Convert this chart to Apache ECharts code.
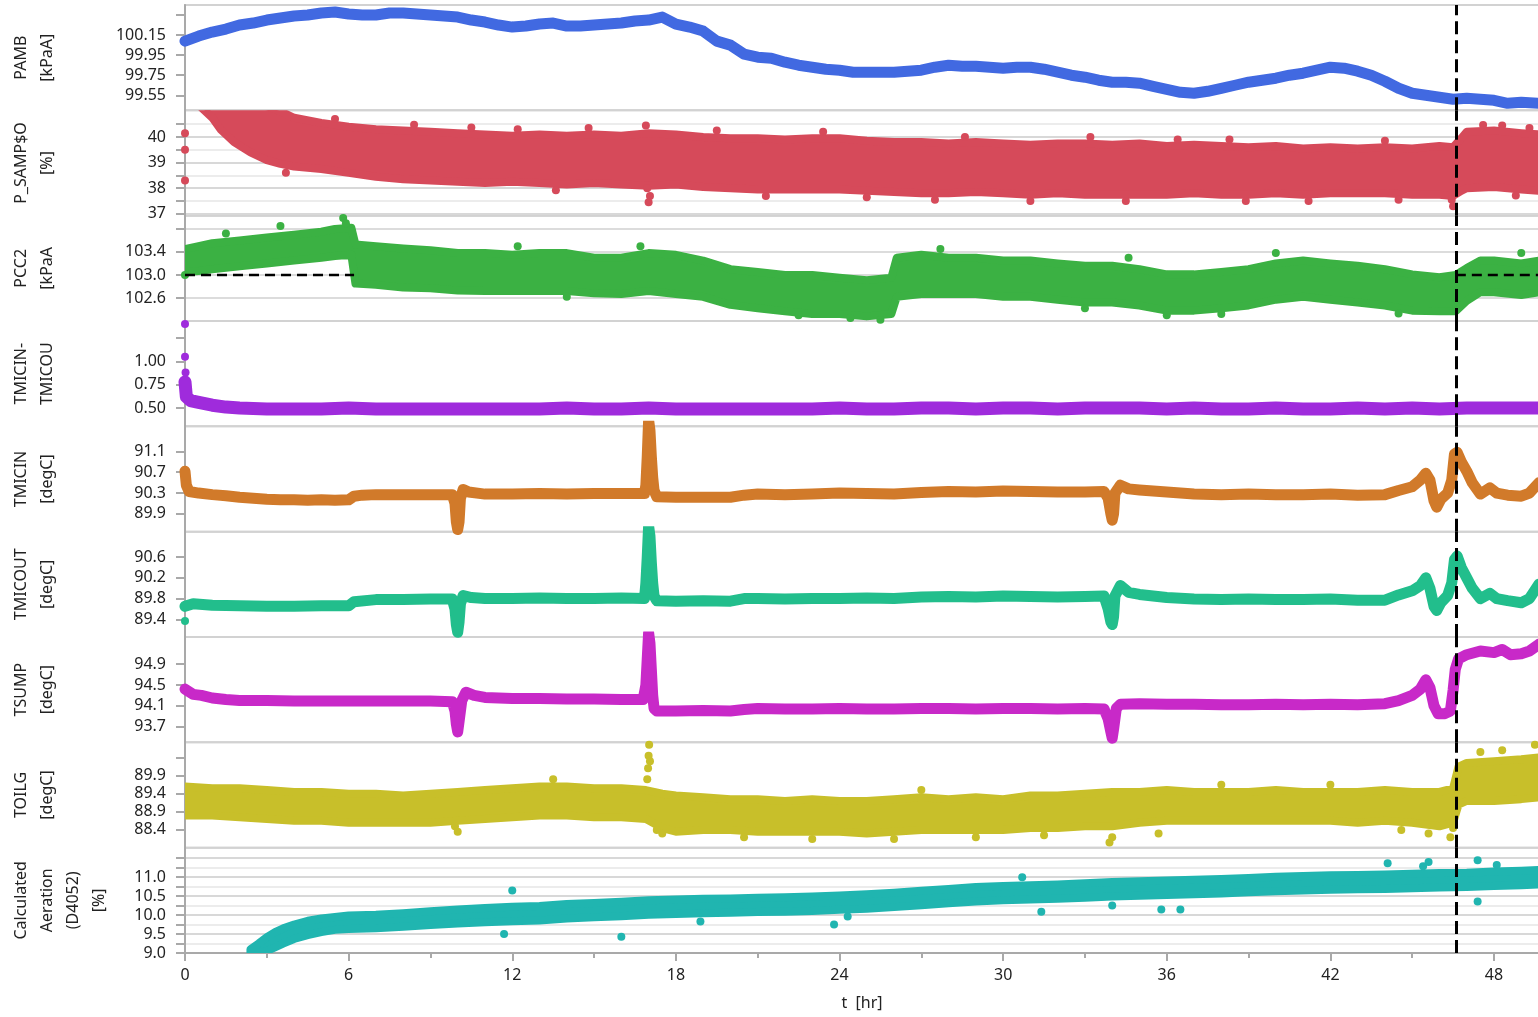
<!DOCTYPE html>
<html><head><meta charset="utf-8">
<script src="https://cdn.jsdelivr.net/npm/echarts@6/dist/echarts.min.js"></script>
<style>html,body{margin:0;padding:0;background:#fff}#c{width:1538px;height:1017px}</style>
</head><body><div id="c"></div><script>
// ---------------- data (hours, value) ----------------
const XMAX = 49.65;
const eventHour = 46.6;
const pcc2Limit = 103.0;
const pcc2LimitSpans = [[0, 6.2], [46.6, 49.65]];

const pamb = [[0,100.09],[0.5,100.14],[1,100.18],[1.5,100.21],[2,100.25],[2.5,100.27],[3,100.3],[3.5,100.32],[4,100.34],[4.5,100.35],[5,100.37],[5.5,100.38],[6,100.36],[6.5,100.35],[7,100.35],[7.5,100.37],[8,100.37],[8.5,100.36],[9,100.35],[9.5,100.34],[10,100.33],[10.5,100.3],[11,100.28],[11.5,100.25],[12,100.23],[12.5,100.24],[13,100.26],[13.5,100.27],[14,100.24],[14.5,100.24],[15,100.25],[15.5,100.26],[16,100.27],[16.5,100.29],[17,100.3],[17.5,100.33],[18,100.26],[18.5,100.23],[19,100.19],[19.5,100.09],[20,100.05],[20.5,99.96],[21,99.93],[21.5,99.92],[22,99.88],[22.5,99.85],[23,99.83],[23.5,99.81],[24,99.8],[24.5,99.78],[25,99.78],[25.5,99.78],[26,99.78],[26.5,99.79],[27,99.8],[27.5,99.83],[28,99.85],[28.5,99.84],[29,99.84],[29.5,99.83],[30,99.82],[30.5,99.83],[31,99.83],[31.5,99.81],[32,99.78],[32.5,99.75],[33,99.73],[33.5,99.7],[34,99.68],[34.5,99.68],[35,99.67],[35.5,99.64],[36,99.61],[36.5,99.58],[37,99.57],[37.5,99.59],[38,99.62],[38.5,99.65],[39,99.68],[39.5,99.7],[40,99.72],[40.5,99.75],[41,99.77],[41.5,99.8],[42,99.83],[42.5,99.82],[43,99.79],[43.5,99.75],[44,99.69],[44.5,99.62],[45,99.57],[45.5,99.55],[46,99.53],[46.5,99.51],[47,99.52],[47.5,99.51],[48,99.5],[48.5,99.47],[49,99.48],[49.65,99.47]];

// bands: [hour, low, high] of the dense scatter cloud
const pSampBand = [[0.6,41.15,41.3],[1,40.75,41.3],[1.3,40.3,41.3],[1.8,39.8,41.3],[2.4,39.4,41.3],[3,39.1,41.2],[3.5,38.95,41.0],[4,38.85,40.75],[5,38.75,40.55],[6,38.6,40.4],[7,38.45,40.3],[8,38.35,40.25],[9,38.3,40.2],[10,38.25,40.15],[11,38.2,40.1],[12,38.25,40.05],[13,38.2,40.1],[14,38.15,40.05],[15,38.2,40.1],[16,38.15,40.05],[17,38.1,40.15],[18,38.15,40.1],[19,38.05,40.0],[20,38.0,39.95],[21,37.95,39.95],[22,37.95,39.9],[23,37.95,39.95],[24,37.95,39.95],[25,37.9,39.85],[26,37.85,39.8],[27,37.8,39.8],[28,37.8,39.75],[29,37.85,39.8],[30,37.8,39.75],[31,37.75,39.7],[32,37.8,39.75],[33,37.75,39.75],[34,37.75,39.7],[35,37.75,39.75],[36,37.75,39.65],[37,37.8,39.7],[38,37.75,39.65],[39,37.75,39.6],[40,37.8,39.65],[41,37.75,39.55],[42,37.8,39.6],[43,37.8,39.55],[44,37.8,39.6],[45,37.75,39.55],[46,37.75,39.65],[46.5,37.7,39.6],[46.8,37.9,39.95],[47,38.0,40.2],[48,38.05,40.25],[49,37.95,40.15],[49.65,37.9,40.1]];
const pSampDots = [[0,40.15],[0,39.5],[0,38.3],[3.7,38.6],[8.4,40.48],[12.2,40.3],[16.9,40.45],[17,37.45],[17.05,37.7],[16.95,38.0],[21.3,37.7],[23.4,40.2],[27.5,37.55],[31,37.5],[36.4,39.9],[41.2,37.5],[44,39.85],[46.5,37.3],[46.45,37.55],[47.6,40.47],[48.3,40.45],[49.3,40.35],[5.5,40.7],[10.5,40.37],[14.8,40.35],[19.5,40.25],[28.6,40.0],[33.2,40.0],[38.3,39.9],[13.6,37.92],[25,37.65],[34.5,37.5],[38.9,37.5],[44.5,37.55],[48.8,37.72]];

const pcc2Band = [[0,103.05,103.45],[0.5,103.07,103.5],[1,103.1,103.55],[2,103.15,103.6],[3,103.2,103.65],[4,103.25,103.7],[5,103.3,103.75],[5.5,103.33,103.8],[6.1,103.35,103.82],[6.25,102.85,103.53],[7,102.83,103.5],[8,102.78,103.46],[9,102.77,103.43],[10,102.73,103.38],[11,102.72,103.38],[12,102.72,103.35],[13,102.72,103.38],[14,102.72,103.38],[15,102.68,103.3],[16,102.67,103.3],[17,102.72,103.38],[18,102.67,103.35],[19,102.62,103.25],[20,102.48,103.1],[21,102.42,103.05],[22,102.37,103.0],[23,102.32,103.0],[24,102.32,102.95],[25,102.28,102.91],[25.9,102.32,102.95],[26.1,102.62,103.3],[27,102.67,103.35],[28,102.67,103.3],[29,102.67,103.3],[30,102.62,103.25],[31,102.62,103.25],[32,102.57,103.2],[33,102.52,103.16],[34,102.52,103.16],[35,102.47,103.1],[36,102.38,103.01],[37,102.38,103.01],[38,102.42,103.05],[39,102.47,103.1],[40,102.57,103.2],[41,102.62,103.25],[42,102.57,103.2],[43,102.52,103.16],[44,102.47,103.1],[45,102.38,103.01],[46,102.37,102.96],[46.6,102.37,103.0],[47,102.55,103.12],[47.5,102.7,103.25],[48,102.7,103.25],[49,102.65,103.2],[49.65,102.7,103.25]];
const pcc2Dots = [[5.8,103.99],[5.9,103.9],[0,103.0],[40,103.38],[49,103.38],[24.4,102.25],[36,102.3],[22.5,102.3],[25.5,102.22],[3.5,103.85],[1.5,103.72],[12.2,103.5],[16.7,103.5],[27.7,103.45],[34.6,103.3],[14,102.62],[33,102.42],[38,102.32],[44.5,102.33]];

const dTmic = [[0,0.78],[0.05,0.62],[0.2,0.58],[0.5,0.56],[1,0.53],[1.5,0.51],[2,0.5],[3,0.49],[4,0.49],[5,0.49],[6,0.5],[7,0.49],[8,0.49],[9,0.49],[10,0.49],[11,0.49],[12,0.49],[13,0.49],[14,0.5],[15,0.49],[16,0.49],[17,0.5],[18,0.49],[19,0.49],[20,0.49],[21,0.49],[22,0.49],[23,0.49],[24,0.5],[25,0.49],[26,0.49],[27,0.5],[28,0.5],[29,0.49],[30,0.5],[31,0.5],[32,0.49],[33,0.5],[34,0.5],[35,0.5],[36,0.49],[37,0.5],[38,0.49],[39,0.49],[40,0.5],[41,0.49],[42,0.49],[43,0.5],[44,0.49],[45,0.5],[46,0.49],[47,0.5],[48,0.5],[49,0.5],[49.65,0.5]];
const dTmicDots = [[0,1.40],[0,1.05],[0.02,0.88]];

const tmicin = [[0,90.72],[0.05,90.45],[0.15,90.33],[0.5,90.3],[1,90.27],[1.5,90.25],[2,90.22],[2.5,90.2],[3,90.18],[3.5,90.17],[4,90.17],[4.5,90.16],[5,90.17],[5.5,90.16],[6,90.17],[6.2,90.24],[6.5,90.26],[7,90.27],[8,90.27],[9,90.27],[9.8,90.27],[9.9,90.1],[9.95,89.75],[10,89.6],[10.05,89.75],[10.1,90.2],[10.2,90.37],[10.4,90.32],[11,90.28],[12,90.28],[13,90.29],[14,90.28],[15,90.29],[16,90.29],[16.85,90.29],[16.9,90.45],[16.95,91.0],[17,91.7],[17.05,91.5],[17.1,91.0],[17.15,90.6],[17.2,90.35],[17.3,90.23],[18,90.22],[19,90.22],[20,90.22],[20.5,90.26],[21,90.28],[22,90.27],[23,90.28],[24,90.3],[25,90.29],[26,90.28],[27,90.31],[28,90.33],[29,90.32],[30,90.34],[31,90.33],[32,90.32],[33,90.32],[33.7,90.33],[33.85,90.2],[33.95,89.9],[34.0,89.78],[34.05,89.9],[34.1,90.3],[34.3,90.45],[34.6,90.38],[35,90.36],[36,90.32],[37,90.28],[38,90.27],[39,90.28],[40,90.27],[41,90.27],[42,90.28],[43,90.26],[44,90.27],[44.5,90.35],[45,90.42],[45.3,90.55],[45.5,90.68],[45.65,90.55],[45.8,90.15],[45.9,90.03],[46.05,90.18],[46.3,90.3],[46.45,90.55],[46.55,91.05],[46.65,91.08],[46.8,90.9],[47,90.72],[47.2,90.5],[47.5,90.28],[47.85,90.4],[48.1,90.3],[48.5,90.26],[49,90.24],[49.3,90.3],[49.65,90.5]];

const tmicout = [[0,89.65],[0.3,89.7],[1,89.67],[2,89.66],[3,89.65],[4,89.65],[5,89.66],[6,89.66],[6.2,89.74],[7,89.78],[8,89.78],[9,89.79],[9.8,89.79],[9.9,89.6],[9.95,89.3],[10,89.15],[10.05,89.35],[10.1,89.7],[10.2,89.86],[10.5,89.82],[11,89.8],[12,89.8],[13,89.81],[14,89.8],[15,89.8],[16,89.81],[16.85,89.8],[16.9,90.1],[16.95,90.6],[17,91.2],[17.05,91.0],[17.1,90.5],[17.15,90.1],[17.2,89.85],[17.3,89.76],[18,89.75],[19,89.76],[20,89.75],[20.5,89.8],[21,89.8],[22,89.79],[23,89.8],[24,89.8],[25,89.81],[26,89.8],[27,89.83],[28,89.84],[29,89.83],[30,89.85],[31,89.84],[32,89.83],[33,89.84],[33.7,89.85],[33.85,89.6],[33.95,89.35],[34,89.3],[34.05,89.45],[34.1,89.85],[34.3,90.05],[34.6,89.92],[35,89.88],[36,89.82],[37,89.79],[38,89.78],[39,89.79],[40,89.78],[41,89.78],[42,89.79],[43,89.77],[44,89.77],[44.5,89.87],[45,89.95],[45.3,90.05],[45.5,90.2],[45.65,90.0],[45.8,89.65],[45.9,89.57],[46.05,89.72],[46.3,89.86],[46.45,90.1],[46.55,90.55],[46.65,90.62],[46.8,90.4],[47,90.2],[47.2,90.0],[47.5,89.8],[47.85,89.9],[48.1,89.8],[48.5,89.76],[49,89.72],[49.3,89.8],[49.65,90.08]];
const tmicoutDots = [[0,89.37]];

const tsump = [[0,94.42],[0.3,94.32],[0.6,94.3],[1,94.25],[1.5,94.22],[2,94.2],[3,94.2],[4,94.19],[5,94.19],[6,94.19],[7,94.19],[8,94.19],[9,94.19],[9.8,94.18],[9.9,94.0],[9.95,93.75],[10,93.6],[10.05,93.8],[10.15,94.2],[10.3,94.36],[10.6,94.3],[11,94.26],[12,94.24],[13,94.24],[14,94.23],[15,94.23],[16,94.22],[16.8,94.22],[16.9,94.5],[16.95,95.0],[17,95.5],[17.05,95.3],[17.1,94.8],[17.15,94.3],[17.2,94.05],[17.3,94.0],[18,94.0],[19,94.01],[20,94.0],[20.5,94.03],[21,94.05],[22,94.04],[23,94.04],[24,94.05],[25,94.04],[26,94.04],[27,94.05],[28,94.05],[29,94.04],[30,94.05],[31,94.05],[32,94.04],[33,94.05],[33.7,94.04],[33.85,93.85],[33.95,93.6],[34.0,93.48],[34.05,93.65],[34.15,94.05],[34.3,94.13],[35,94.14],[36,94.13],[37,94.13],[38,94.12],[39,94.12],[40,94.13],[41,94.12],[42,94.13],[43,94.12],[44,94.14],[44.5,94.2],[45,94.3],[45.3,94.42],[45.5,94.6],[45.65,94.45],[45.8,94.1],[45.95,93.95],[46.2,93.95],[46.4,94.0],[46.5,94.4],[46.58,94.8],[46.7,95.0],[47,95.08],[47.5,95.15],[48,95.12],[48.3,95.18],[48.6,95.08],[49,95.1],[49.3,95.15],[49.65,95.28]];

const toilgBand = [[0,88.8,89.6],[1,88.8,89.55],[2,88.75,89.55],[3,88.7,89.5],[4,88.65,89.45],[5,88.65,89.45],[6,88.6,89.4],[7,88.6,89.4],[8,88.6,89.35],[9,88.6,89.4],[10,88.65,89.45],[11,88.7,89.5],[12,88.75,89.55],[13,88.8,89.6],[14,88.8,89.6],[15,88.75,89.55],[16,88.75,89.55],[16.9,88.7,89.5],[17.5,88.45,89.4],[18,88.35,89.35],[19,88.4,89.3],[20,88.4,89.25],[21,88.35,89.25],[22,88.35,89.2],[23,88.35,89.25],[24,88.35,89.2],[25,88.3,89.2],[26,88.35,89.25],[27,88.4,89.3],[28,88.4,89.25],[29,88.4,89.3],[30,88.4,89.25],[31,88.45,89.35],[32,88.45,89.35],[33,88.5,89.4],[34,88.5,89.45],[35,88.6,89.45],[36,88.65,89.5],[37,88.65,89.45],[38,88.65,89.45],[39,88.65,89.45],[40,88.65,89.5],[41,88.65,89.45],[42,88.65,89.45],[43,88.6,89.45],[44,88.65,89.5],[45,88.6,89.45],[46,88.5,89.45],[46.5,88.6,89.55],[46.7,89.1,90.15],[47,89.2,90.25],[48,89.2,90.3],[49,89.25,90.35],[49.65,89.3,90.4]];
const toilgDots = [[16.95,89.8],[16.98,90.1],[17,90.45],[17.02,90.75],[17.05,90.3],[17.5,88.3],[17.3,88.4],[33.9,88.05],[34,88.2],[35.7,88.3],[44.6,88.4],[45.6,88.3],[46.4,88.2],[46.5,88.45],[47.5,90.55],[48.3,90.6],[49.5,90.75],[13.5,89.8],[9.9,88.5],[10,88.35],[20.5,88.2],[23,88.15],[26,88.15],[29,88.2],[31.5,88.25],[38,89.65],[42,89.65],[27,89.5]];

const aerBand = [[2.4,8.98,9.1],[2.7,9.0,9.25],[3.0,9.05,9.42],[3.3,9.15,9.55],[3.6,9.25,9.65],[4.0,9.37,9.75],[4.5,9.47,9.85],[5.0,9.55,9.91],[5.5,9.61,9.95],[6,9.63,9.99],[7,9.65,10.01],[8,9.69,10.05],[9,9.74,10.1],[10,9.78,10.15],[11,9.81,10.19],[12,9.84,10.22],[13,9.86,10.24],[14,9.91,10.29],[15,9.94,10.32],[16,9.97,10.35],[17,10.01,10.39],[18,10.03,10.41],[19,10.05,10.43],[20,10.06,10.44],[21,10.08,10.46],[22,10.09,10.47],[23,10.11,10.49],[24,10.14,10.52],[25,10.17,10.55],[26,10.21,10.59],[27,10.26,10.64],[28,10.31,10.69],[29,10.36,10.74],[30,10.39,10.77],[31,10.41,10.79],[32,10.43,10.81],[33,10.46,10.84],[34,10.49,10.87],[35,10.51,10.89],[36,10.53,10.91],[37,10.55,10.93],[38,10.57,10.95],[39,10.6,10.98],[40,10.63,11.01],[41,10.65,11.03],[42,10.67,11.05],[43,10.68,11.06],[44,10.69,11.07],[45,10.71,11.09],[46,10.73,11.11],[47,10.74,11.12],[48,10.77,11.15],[49,10.79,11.17],[49.65,10.81,11.19]];
const aerDots = [[12.0,10.65],[11.7,9.5],[16.0,9.43],[18.9,9.83],[23.8,9.75],[24.3,9.96],[30.7,11.0],[31.4,10.09],[34.0,10.25],[35.8,10.15],[36.5,10.15],[44.1,11.37],[45.4,11.29],[45.6,11.4],[47.4,11.45],[47.4,10.36],[48.1,11.32]];

// tick values / tick labels per panel
const xTicks = 6;
const pambTicks = [99.55,99.75,99.95,100.15,100.35], pambLabels = [99.55,99.75,99.95,100.15];
const pSampTicks = [37,37.5,38,38.5,39,39.5,40,40.5], pSampLabels = [37,38,39,40];
const pcc2Ticks = [102.6,103.0,103.4,103.8], pcc2Labels = [102.6,103.0,103.4];
const dTmicTicks = [0.5,0.75,1.0,1.25], dTmicLabels = [0.5,0.75,1.0];
const tmicinTicks = [89.9,90.3,90.7,91.1], tmicinLabels = [89.9,90.3,90.7,91.1];
const tmicoutTicks = [89.4,89.8,90.2,90.6], tmicoutLabels = [89.4,89.8,90.2,90.6];
const tsumpTicks = [93.7,94.1,94.5,94.9], tsumpLabels = [93.7,94.1,94.5,94.9];
const toilgTicks = [88.4,88.9,89.4,89.9,90.4], toilgLabels = [88.4,88.9,89.4,89.9];
const aerTicks = [9.0,9.25,9.5,9.75,10.0,10.25,10.5,10.75,11.0,11.25,11.5], aerLabels = [9.0,9.5,10.0,10.5,11.0];

// ---------------- layout / style ----------------
const FONT = "'Noto Sans', sans-serif";
const LEFT = 185, TOP = 5, PH = 105.33;
const AXC = '#a9a9a9';
const panels = [
  {name:'PAMB\n[kPaA]', lines:2, color:'#4169E1', min:99.40, max:100.45, ticks:pambTicks, labels:pambLabels, dec:2, split:null},
  {name:'P_SAMP$O\n[%]', lines:2, color:'#D64A5A', min:36.93, max:41.04, ticks:pSampTicks, labels:pSampLabels, dec:0, split:['#d8d8d8','#ececec']},
  {name:'PCC2\n[kPaA', lines:2, color:'#3BB143', min:102.2, max:104.03, ticks:pcc2Ticks, labels:pcc2Labels, dec:1, split:['#dcdcdc']},
  {name:'TMICIN-\nTMICOU', lines:2, color:'#9F2BDC', min:0.304, max:1.432, ticks:dTmicTicks, labels:dTmicLabels, dec:2, split:null},
  {name:'TMICIN\n[degC]', lines:2, color:'#D17A2A', min:89.56, max:91.58, ticks:tmicinTicks, labels:tmicinLabels, dec:1, split:null},
  {name:'TMICOUT\n[degC]', lines:2, color:'#22BE8C', min:89.06, max:91.09, ticks:tmicoutTicks, labels:tmicoutLabels, dec:1, split:null},
  {name:'TSUMP\n[degC]', lines:2, color:'#C829C8', min:93.40, max:95.42, ticks:tsumpTicks, labels:tsumpLabels, dec:1, split:null},
  {name:'TOILG\n[degC]', lines:2, color:'#C8BF2A', min:87.91, max:90.82, ticks:toilgTicks, labels:toilgLabels, dec:1, split:null},
  {name:'Calculated\nAeration\n(D4052)\n[%]', lines:4, color:'#20B5B0', min:9.0, max:11.78, ticks:aerTicks, labels:aerLabels, dec:1, split:['#d8d8d8','#ececec']}
];

const grids = [], xAxes = [], yAxes = [], series = [];
panels.forEach((p, i) => {
  grids.push({left: LEFT, right: -1, top: TOP + i*PH, height: PH, show: true,
    borderColor: '#d2d2d2', borderWidth: 2, backgroundColor: 'transparent', containLabel: false, outerBoundsMode: 'none'});
  const last = i === panels.length - 1;
  xAxes.push({type:'value', gridIndex:i, min:0, max:XMAX, interval:xTicks, show: last,
    axisLine:{show:true, lineStyle:{color:AXC, width:2}},
    axisTick:{show:true, length:8, lineStyle:{color:AXC, width:2}},
    minorTick:{show:true, splitNumber:2, length:5, lineStyle:{color:AXC, width:2}},
    axisLabel:{fontSize:16, color:'#222', fontFamily:FONT, margin:14, showMaxLabel:false},
    splitLine:{show:false},
    name: last ? 't  [hr]' : '', nameLocation:'middle', nameGap:42,
    nameTextStyle:{fontSize:16, color:'#222', fontFamily:FONT}});
  yAxes.push({type:'value', gridIndex:i, min:p.min, max:p.max, scale:true,
    name:p.name, nameLocation:'middle', nameRotate:90, nameGap: 176.5 - 26*p.lines,
    nameTextStyle:{fontSize:16, lineHeight:26, color:'#222', fontFamily:FONT, align:'center'},
    axisLine:{show:true, lineStyle:{color:AXC, width:2}},
    axisTick:{show:true, length:9, customValues:p.ticks, lineStyle:{color:AXC, width:2}},
    axisLabel:{show:true, customValues:p.labels, fontSize:16, color:'#222', fontFamily:FONT, margin:19,
      formatter: (v) => Number(v).toFixed(p.dec)},
    splitLine:{show: !!p.split, lineStyle:{color: p.split || '#ddd', width:2}}});
});

function trace(i, data, color, width) {
  return {type:'line', xAxisIndex:i, yAxisIndex:i, data, symbol:'none', silent:true, z:3,
    lineStyle:{color, width, cap:'round', join:'round'}, clip:true};
}
function dots(i, data, color) {
  return {type:'scatter', xAxisIndex:i, yAxisIndex:i, data, symbolSize:8, silent:true, z:3,
    itemStyle:{color, opacity:1}};
}
function band(i, arr, color) {
  return {type:'custom', xAxisIndex:i, yAxisIndex:i, data: arr, encode:{x:0, y:[1,2]}, clip:true, silent:true, z:3,
    renderItem: function (params, api) {
      if (params.dataIndex !== 0) return null;
      const pts = [];
      for (let k = 0; k < arr.length; k++) pts.push(api.coord([arr[k][0], arr[k][2]]));
      for (let k = arr.length - 1; k >= 0; k--) pts.push(api.coord([arr[k][0], arr[k][1]]));
      return {type:'polygon', shape:{points:pts}, style:{fill:color, stroke:color, lineWidth:8, lineJoin:'round'}};
    }};
}
function eventLine(i) {
  return {type:'line', xAxisIndex:i, yAxisIndex:i, data:[], silent:true, z:6,
    markLine:{silent:true, symbol:['none','none'], label:{show:false}, z:6, animation:false,
      lineStyle:{color:'#000', width:3, type:[13,6]}, data:[{xAxis: eventHour}]}};
}

const C = panels.map(p => p.color);
series.push(trace(0, pamb, C[0], 11));
series.push(band(1, pSampBand, C[1]));
series.push(dots(1, pSampDots, C[1]));
series.push(band(2, pcc2Band, C[2]));
series.push(dots(2, pcc2Dots, C[2]));
pcc2LimitSpans.forEach(s => series.push({type:'line', xAxisIndex:2, yAxisIndex:2,
  data:[[s[0], pcc2Limit],[s[1], pcc2Limit]], symbol:'none', silent:true, z:5,
  lineStyle:{color:'#000', width:2.5, type:[10,6]}}));
series.push(trace(3, dTmic, C[3], 13));
series.push(dots(3, dTmicDots, C[3]));
series.push(trace(4, tmicin, C[4], 11));
series.push(trace(5, tmicout, C[5], 11));
series.push(dots(5, tmicoutDots, C[5]));
series.push(trace(6, tsump, C[6], 11));
series.push(band(7, toilgBand, C[7]));
series.push(dots(7, toilgDots, C[7]));
series.push(band(8, aerBand, C[8]));
series.push(dots(8, aerDots, C[8]));
for (let i = 0; i < panels.length; i++) series.push(eventLine(i));

const chart = echarts.init(document.getElementById('c'), null, {renderer:'canvas'});
chart.setOption({animation:false, backgroundColor:'#fff', textStyle:{fontFamily:FONT},
  grid:grids, xAxis:xAxes, yAxis:yAxes, series});
</script></body></html>
